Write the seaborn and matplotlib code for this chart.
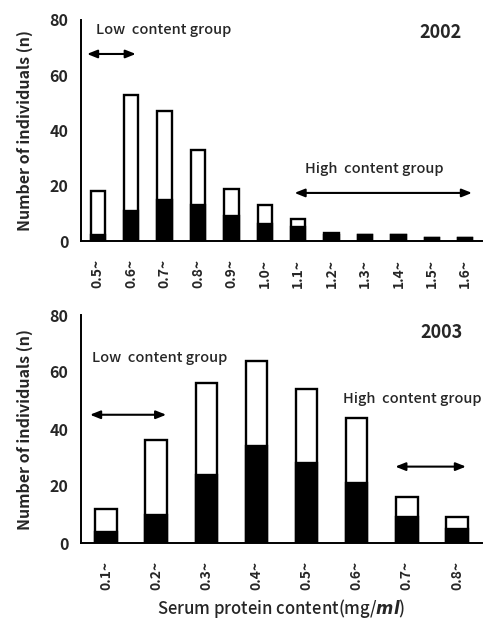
import matplotlib
matplotlib.use("Agg")
import matplotlib.pyplot as plt
import seaborn as sns
import pandas as pd
import numpy as np

# ---- data ----
cats_2002 = ["0.5~", "0.6~", "0.7~", "0.8~", "0.9~", "1.0~", "1.1~", "1.2~", "1.3~", "1.4~", "1.5~", "1.6~"]
total_2002 = [18, 53, 47, 33, 19, 13, 8, 3, 2, 2, 1, 1]
dark_2002 = [2, 11, 15, 13, 9, 6, 5, 2, 2, 2, 1, 1]

cats_2003 = ["0.1~", "0.2~", "0.3~", "0.4~", "0.5~", "0.6~", "0.7~", "0.8~"]
total_2003 = [12, 36, 56, 64, 54, 44, 16, 9]
dark_2003 = [4, 10, 24, 34, 28, 21, 9, 5]

sns.set_theme(style="white")
plt.rcParams['font.family'] = ['Noto Sans CJK JP', 'DejaVu Sans']
plt.rcParams['mathtext.fontset'] = 'custom'
plt.rcParams['mathtext.it'] = 'DejaVu Sans:italic:bold'
plt.rcParams['mathtext.rm'] = 'Noto Sans CJK JP'

W, H = 483, 624
fig = plt.figure(figsize=(W / 100, H / 100), dpi=100)

def px_axes(x0, x1, ytop, ybot):
    return fig.add_axes([x0 / W, 1 - ybot / H, (x1 - x0) / W, (ybot - ytop) / H])

ax1 = px_axes(81, 482, 20, 241)
ax2 = px_axes(81, 482, 315, 543)

def draw(ax, cats, total, dark):
    df = pd.DataFrame({"cat": cats, "total": total, "dark": dark})
    sns.barplot(data=df, x="cat", y="total", ax=ax, color="white",
                edgecolor="black", linewidth=1.7, width=0.43, saturation=1)
    sns.barplot(data=df, x="cat", y="dark", ax=ax, color="black",
                edgecolor="black", linewidth=1.7, width=0.43, saturation=1)
    n = len(cats)
    ax.set_xlim(-0.5, n - 0.5)
    ax.set_ylim(0, 80)
    ax.set_yticks([0, 20, 40, 60, 80])
    ax.set_xlabel("")
    ax.set_ylabel("Number of individuals (n)", fontsize=11.5, fontweight="bold", labelpad=12)
    for s in ["top", "right"]:
        ax.spines[s].set_visible(False)
    for s in ["left", "bottom"]:
        ax.spines[s].set_color("black")
        ax.spines[s].set_linewidth(1.4)
    ax.set_xticks(np.arange(n))
    ax.set_xticklabels(cats, rotation=90, fontsize=10, fontweight="bold")
    ax.set_xticks(np.arange(n) + 0.5, minor=True)
    ax.tick_params(axis="x", which="major", length=0, pad=13)
    ax.tick_params(axis="x", which="minor", direction="in", length=4, width=1.2, color="black")
    ax.tick_params(axis="y", direction="in", length=4, width=1.2, color="black", labelsize=11.5, pad=9)
    for lab in ax.get_yticklabels():
        lab.set_fontweight("bold")

draw(ax1, cats_2002, total_2002, dark_2002)
draw(ax2, cats_2003, total_2003, dark_2003)

arrow = dict(arrowstyle="<|-|>,head_length=0.5,head_width=0.2", color="black", lw=1.5, shrinkA=0, shrinkB=0)

# top panel annotations
ax1.text(-0.05, 76.4, "Low  content group", fontsize=10.5, fontweight="medium", va="center", ha="left")
ax1.annotate("", xy=(-0.32, 67.7), xytext=(1.14, 67.7), arrowprops=arrow)
ax1.text(10.9, 75.3, "2002", fontsize=13, fontweight="bold", va="center", ha="right")
ax1.text(6.19, 26, "High  content group", fontsize=10.5, fontweight="medium", va="center", ha="left")
ax1.annotate("", xy=(5.89, 17.4), xytext=(11.2, 17.4), arrowprops=arrow)

# bottom panel annotations
ax2.text(7.12, 73.8, "2003", fontsize=13, fontweight="bold", va="center", ha="right")
ax2.text(-0.28, 65, "Low  content group", fontsize=10.5, fontweight="medium", va="center", ha="left")
ax2.annotate("", xy=(-0.32, 45), xytext=(1.2, 45), arrowprops=arrow)
ax2.text(4.73, 50.7, "High  content group", fontsize=10.5, fontweight="medium", va="center", ha="left")
ax2.annotate("", xy=(5.77, 26.8), xytext=(7.18, 26.8), arrowprops=arrow)

fig.text(281 / W, 1 - 608 / H, "Serum protein content(mg/$\\it{ml}$)", fontsize=12,
         fontweight="medium", ha="center", va="center")

fig.savefig("out.png", dpi=100)
